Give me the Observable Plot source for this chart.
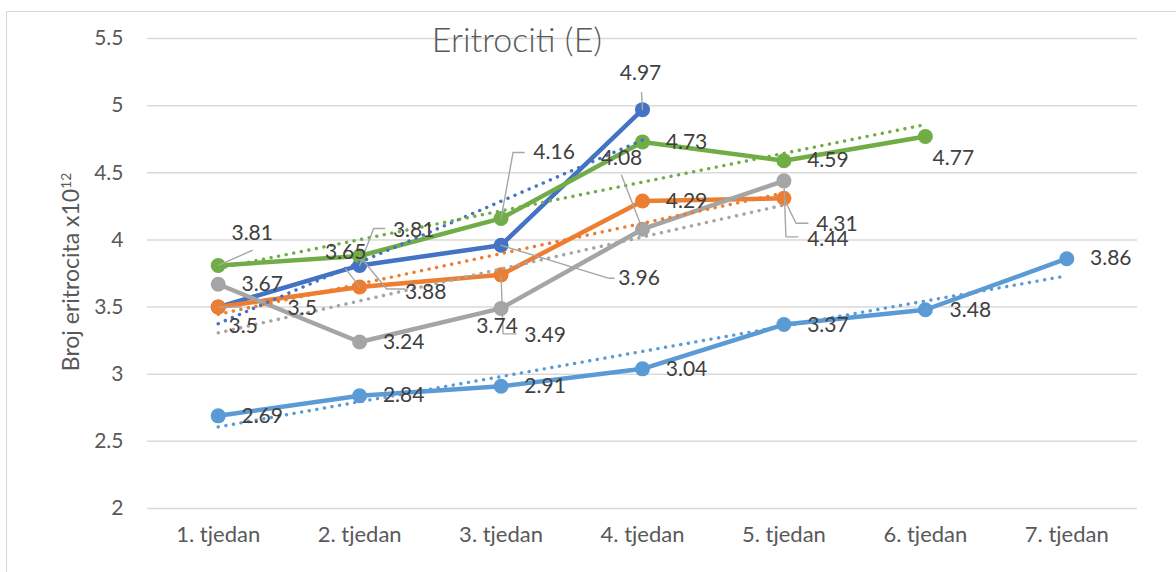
<!DOCTYPE html>
<html><head><meta charset="utf-8">
<script src="https://cdn.jsdelivr.net/npm/d3@7"></script>
<script src="https://cdn.jsdelivr.net/npm/@observablehq/plot@0.6"></script>
<style>
html,body{margin:0;padding:0;overflow:hidden;background:#fff;width:1176px;height:572px;}
#wrap{position:relative;width:1176px;height:572px;font-family:Lato,"Open Sans",sans-serif;}
#frame{position:absolute;left:6px;top:11px;width:1300px;height:700px;border:1.5px solid #d9d9d9;box-sizing:border-box;}
#chart{position:absolute;left:0;top:0;}
#title{position:absolute;left:317px;top:18px;width:400px;text-align:center;font-size:34px;line-height:42px;color:#595959;font-weight:300;}
#ytitle{position:absolute;left:70px;top:272px;transform:translate(-50%,-50%) rotate(-90deg);white-space:nowrap;font-size:23px;color:#595959;}
#ytitle sup{font-size:0.6em;vertical-align:0.6em;line-height:0;}
</style></head>
<body>
<div id="wrap">
  <div id="frame"></div>
  <div id="chart"></div>
  <div id="title">Eritrociti (E)</div>
  <div id="ytitle">Broj eritrocita x10<sup>12</sup></div>
</div>
<script>
// ---- data ----
const weeks = ["1. tjedan","2. tjedan","3. tjedan","4. tjedan","5. tjedan","6. tjedan","7. tjedan"];
const yTicks = [2, 2.5, 3, 3.5, 4, 4.5, 5, 5.5];
const seriesKeys = ["blue","orange","gray","lightBlue","green"];
const blueValues = [3.5, 3.81, 3.96, 4.97];
const orangeValues = [3.5, 3.65, 3.74, 4.29, 4.31];
const grayValues = [3.67, 3.24, 3.49, 4.08, 4.44];
const lightBlueValues = [2.69, 2.84, 2.91, 3.04, 3.37, 3.48, 3.86];
const greenValues = [3.81, 3.88, 4.16, 4.73, 4.59, 4.77];

// ---- styles ----
const seriesColors = {blue:"#4472C4", orange:"#ED7D31", gray:"#A5A5A5", lightBlue:"#5B9BD5", green:"#70AD47"};
// label nudges (pixels, relative to the point) and leader line bends
const defaultNudge = {dx: 44, dy: 0};
const labelNudges = {
  "green-1": {dx:34, dy:-32, leader:[[34,-15]]},
  "green-2": {dx:66, dy:36, leader:[[27,33],[45,33]]},
  "green-3": {dx:53, dy:-66, leader:[[12,-66],[23,-66]]},
  "green-6": {dx:28, dy:22},
  "blue-1": {dx:25, dy:19},
  "blue-2": {dx:54, dy:-35, leader:[[14,-37],[25,-37]]},
  "blue-3": {dx:138, dy:33, leader:[[108,33],[113,33]]},
  "blue-4": {dx:-2, dy:-36, leader:[[-1,-17]]},
  "orange-1": {dx:84, dy:1, leader:[[23,0]]},
  "orange-2": {dx:-14, dy:-35, leader:[[-14,-18]]},
  "orange-3": {dx:-4, dy:51, leader:[[2,59],[15,59]]},
  "orange-5": {dx:53, dy:26, leader:[[12,25],[24,25]]},
  "gray-3": {dx:44, dy:27},
  "gray-4": {dx:-21, dy:-71, leader:[[-21,-54]]},
  "gray-5": {dx:44, dy:58, leader:[[2,56],[14,56]]},
  "lightBlue-5": {dx:44, dy:1},
  "lightBlue-6": {dx:45, dy:1}
};

const W = 1176, H = 572, mL = 147, mR = 39, mT = 38, mB = 64;
const xDomain = [0.5, 7.5], yDomain = [2, 5.5];
const kx = (W - mL - mR) / (xDomain[1] - xDomain[0]);
const ky = (H - mT - mB) / (yDomain[1] - yDomain[0]);

const valuesBySeries = {blue:blueValues, orange:orangeValues, gray:grayValues, lightBlue:lightBlueValues, green:greenValues};
const rows = seriesKeys.flatMap(k => valuesBySeries[k].map((v, i) => ({series:k, week:i+1, value:v})));

const labelRows = rows.map(d => {
  const n = labelNudges[`${d.series}-${d.week}`] || defaultNudge;
  return {...d, lx: d.week + n.dx / kx, ly: d.value - n.dy / ky};
});
const leaderRows = rows.flatMap(d => {
  const n = labelNudges[`${d.series}-${d.week}`];
  if (!n || !n.leader) return [];
  const id = `${d.series}-${d.week}`;
  return [[0,0], ...n.leader].map(([px, py]) => ({id, x: d.week + px / kx, y: d.value - py / ky}));
});

const marks = [
  Plot.gridY(yTicks, {stroke:"#d9d9d9", strokeOpacity:1, strokeWidth:1.5}),
  Plot.axisY(yTicks, {tickSize:0, tickPadding:24, tickFormat:d => String(d), fontSize:21, label:null}),
  Plot.axisX(weeks.map((_, i) => i + 1), {tickSize:0, tickPadding:18, tickFormat:d => weeks[d-1], fontSize:22, label:null})
];
for (const k of seriesKeys) {
  const data = rows.filter(d => d.series === k);
  marks.push(Plot.line(data, {x:"week", y:"value", stroke:seriesColors[k], strokeWidth:4.5, strokeLinejoin:"round", strokeLinecap:"round"}));
  marks.push(Plot.dot(data, {x:"week", y:"value", r:7.5, fill:seriesColors[k], stroke:"none"}));
}
for (const k of seriesKeys) {
  const data = rows.filter(d => d.series === k);
  marks.push(Plot.linearRegressionY(data, {x:"week", y:"value", ci:0, stroke:seriesColors[k], strokeWidth:3.4, strokeDasharray:"0.1 7.6", strokeLinecap:"round"}));
}
marks.push(Plot.line(leaderRows, {x:"x", y:"y", z:"id", stroke:"#A6A6A6", strokeWidth:1.4}));
marks.push(Plot.text(labelRows, {x:"lx", y:"ly", text:d => String(d.value), fill:"#404040", fontSize:21, textAnchor:"middle"}));

const chart = Plot.plot({
  width: W, height: H,
  marginLeft: mL, marginRight: mR, marginTop: mT, marginBottom: mB,
  x: {type:"linear", domain:xDomain},
  y: {type:"linear", domain:yDomain},
  style: {fontFamily:"Lato, 'Open Sans', sans-serif", color:"#595959", background:"transparent", overflow:"visible"},
  marks
});
document.getElementById("chart").appendChild(chart);
</script>
</body></html>
